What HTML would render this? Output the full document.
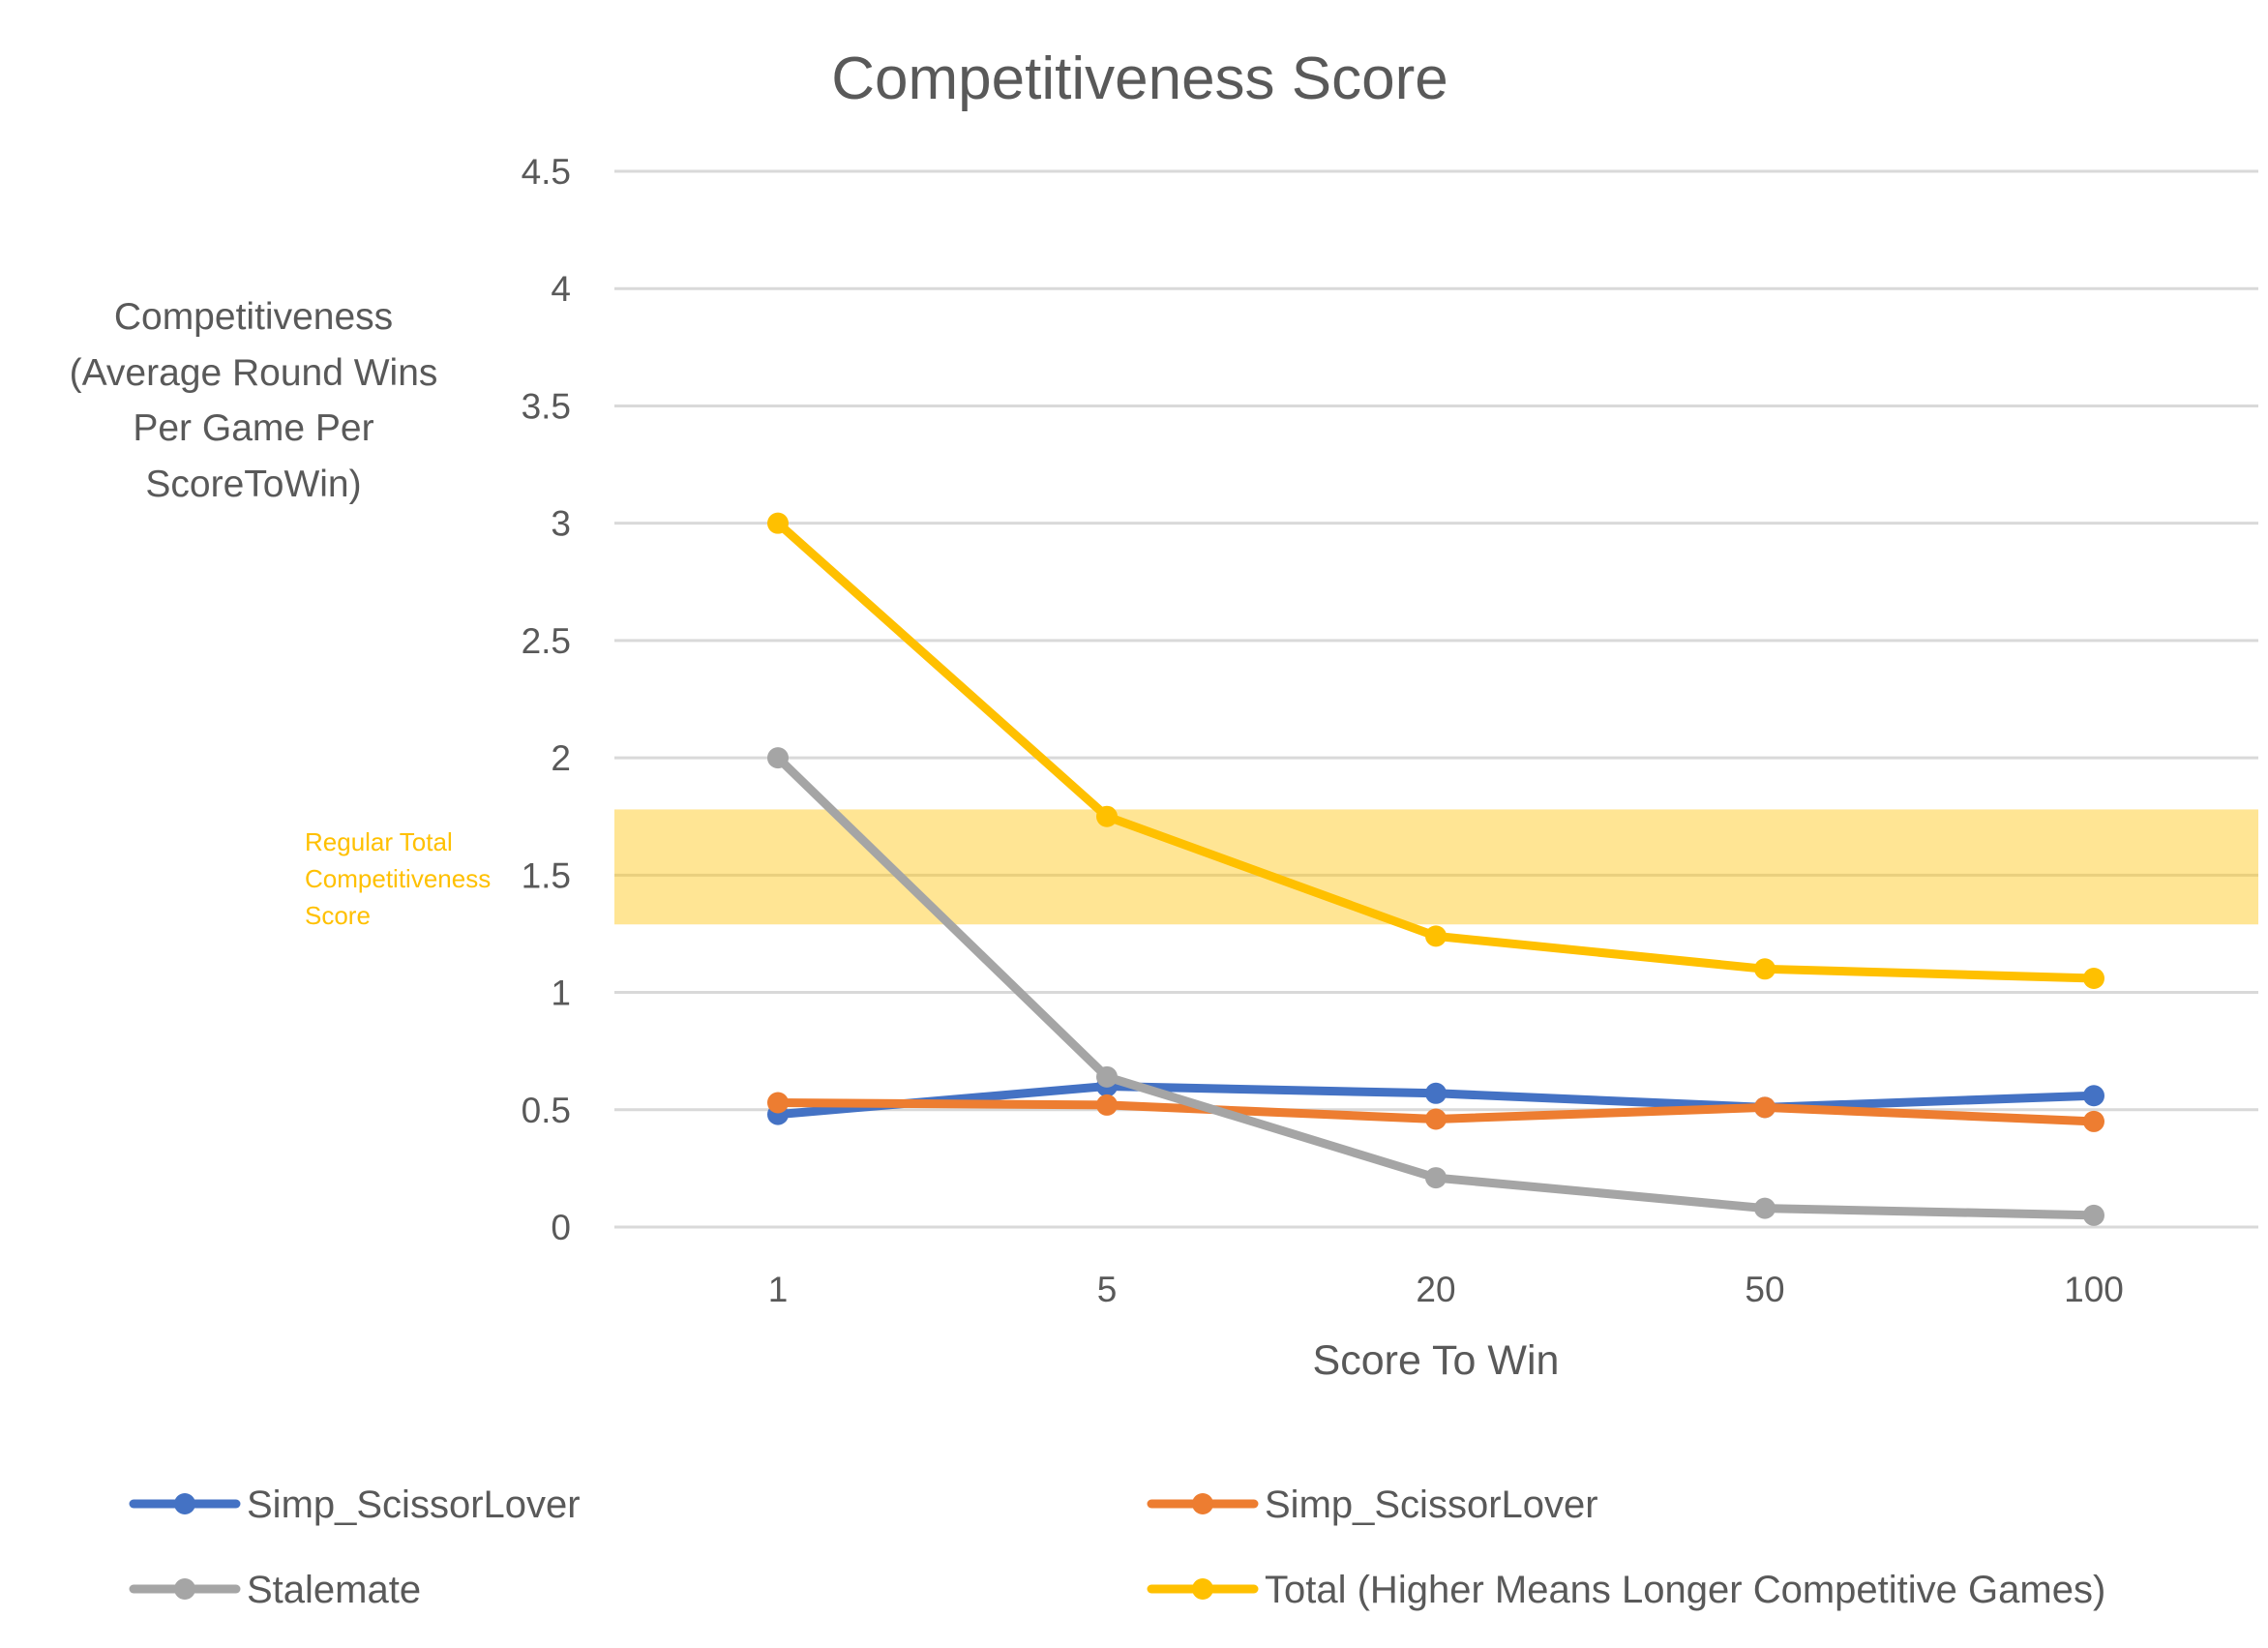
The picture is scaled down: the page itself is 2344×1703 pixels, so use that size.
<!DOCTYPE html>
<html><head><meta charset="utf-8"><style>
html,body{margin:0;padding:0;background:#fff;}
svg{display:block;font-family:"Liberation Sans",sans-serif;}
</style></head><body>
<svg id="chart" width="2344" height="1703" viewBox="0 0 2344 1703" xmlns="http://www.w3.org/2000/svg">
<rect width="2344" height="1703" fill="#fff"/>
<text x="1178" y="102" text-anchor="middle" font-size="62" fill="#595959">Competitiveness Score</text>
<g id="grid"></g>
<rect id="band" fill="#FFC000" fill-opacity="0.42"/>
<g id="yticks"></g>
<g id="xticks"></g>
<g font-size="39" fill="#595959" text-anchor="middle">
<text x="262" y="340">Competitiveness</text>
<text x="262" y="398">(Average Round Wins</text>
<text x="262" y="455">Per Game Per</text>
<text x="262" y="513">ScoreToWin)</text>
</g>
<g font-size="26" fill="#FFC000">
<text x="315" y="879">Regular Total</text>
<text x="315" y="917">Competitiveness</text>
<text x="315" y="955">Score</text>
</g>
<text x="1484" y="1420" text-anchor="middle" font-size="43" fill="#595959">Score To Win</text>
<g id="series"></g>
<g id="legend"></g>
</svg>
<script>
const categories=["1","5","20","50","100"];
const blueVals=[0.48,0.60,0.57,0.51,0.56];
const orangeVals=[0.53,0.52,0.46,0.51,0.45];
const grayVals=[2.0,0.64,0.21,0.08,0.05];
const yellowVals=[3.0,1.75,1.24,1.10,1.06];
const yTicks=[0,0.5,1,1.5,2,2.5,3,3.5,4,4.5];
const bandRange=[1.29,1.78];
const seriesNames=["Simp_ScissorLover","Simp_ScissorLover","Stalemate","Total (Higher Means Longer Competitive Games)"];

const NS="http://www.w3.org/2000/svg";
const L=635,R=2334,Y0=1268,Y45=177;
const y=v=>Y0-(v/4.5)*(Y0-Y45);
const step=340;
const x=i=>804+step*i;
function mk(t,a,p){const e=document.createElementNS(NS,t);for(const k in a)e.setAttribute(k,a[k]);p.appendChild(e);return e;}
const grid=document.getElementById('grid'),yt=document.getElementById('yticks'),xt=document.getElementById('xticks');
yTicks.forEach(v=>{
 const g=mk('line',{x1:L,x2:R,y1:y(v),y2:y(v),stroke:'#d9d9d9','stroke-width':3},grid);
 
 
 const t=mk('text',{x:590,y:y(v)+13,'text-anchor':'end','font-size':37,fill:'#595959'},yt);
 t.textContent=String(v);
 
 
});
const b=document.getElementById('band');
b.setAttribute('x',L);b.setAttribute('width',R-L);
b.setAttribute('y',y(bandRange[1]));b.setAttribute('height',y(bandRange[0])-y(bandRange[1]));
categories.forEach((c,i)=>{
 const t=mk('text',{x:x(i),y:1345,'text-anchor':'middle','font-size':37,fill:'#595959'},xt);
 t.textContent=c;
 
 
});
const sg=document.getElementById('series');
const colors=['#4472C4','#ED7D31','#A5A5A5','#FFC000'];
const data=[blueVals,orangeVals,grayVals,yellowVals];
const snames=['series-blue','series-orange','series-stalemate','series-total'];
data.forEach((vals,si)=>{
 const g=mk('g',{},sg);
 
 
 const pl=mk('polyline',{points:vals.map((v,i)=>x(i)+','+y(v)).join(' '),fill:'none',stroke:colors[si],'stroke-width':9,'stroke-linejoin':'round','stroke-linecap':'round'},g);
 
 
 vals.forEach((v,i)=>{
  const c=mk('circle',{cx:x(i),cy:y(v),r:11,fill:colors[si]},g);
  
  
 });
});
const lg=document.getElementById('legend');
const pos=[[138,1554],[1190,1554],[138,1642],[1190,1642]];
seriesNames.forEach((n,i)=>{
 const g=mk('g',{},lg);
 
 
 const [lx,ly]=pos[i];
 mk('line',{x1:lx,x2:lx+106,y1:ly,y2:ly,stroke:colors[i],'stroke-width':9,'stroke-linecap':'round'},g);
 mk('circle',{cx:lx+53,cy:ly,r:11,fill:colors[i]},g);
 const t=mk('text',{x:lx+117,y:ly+14,'font-size':40,fill:'#595959'},g);
 t.textContent=n;
});
</script>
</body></html>
